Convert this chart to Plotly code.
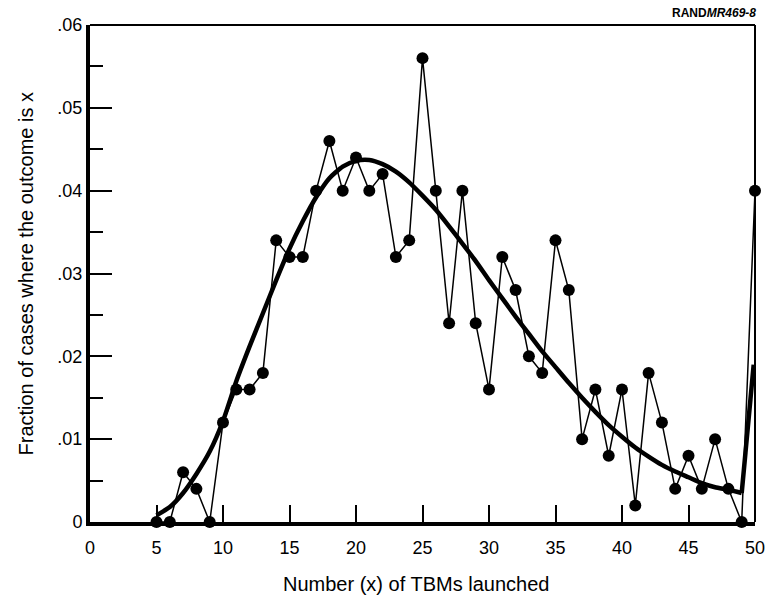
import plotly.graph_objects as go

# Observed fraction of cases for each number of TBMs launched
tbm_x = list(range(5, 51))
fraction = [0.000, 0.000, 0.006, 0.004, 0.000, 0.012, 0.016, 0.016, 0.018, 0.034,
            0.032, 0.032, 0.040, 0.046, 0.040, 0.044, 0.040, 0.042, 0.032, 0.034,
            0.056, 0.040, 0.024, 0.040, 0.024, 0.016, 0.032, 0.028, 0.020, 0.018,
            0.034, 0.028, 0.010, 0.016, 0.008, 0.016, 0.002, 0.018, 0.012, 0.004,
            0.008, 0.004, 0.010, 0.004, 0.000, 0.040]

# Smooth fitted curve
curve_x = list(range(5, 50))
curve_y = [0.0008, 0.0018, 0.0035, 0.0058, 0.0085, 0.0122, 0.0170, 0.0212, 0.0252, 0.0292,
           0.0330, 0.0363, 0.0392, 0.0415, 0.0429, 0.0436, 0.0437, 0.0432, 0.0423, 0.0410,
           0.0394, 0.0377, 0.0357, 0.0336, 0.0315, 0.0292, 0.0270, 0.0248, 0.0227, 0.0206,
           0.0187, 0.0168, 0.0150, 0.0133, 0.0117, 0.0103, 0.0090, 0.0079, 0.0069, 0.0061,
           0.0054, 0.0047, 0.0042, 0.0039, 0.0035]
# Final rise of the fitted curve
tail_x = [49, 49.9]
tail_y = [0.0035, 0.019]

y_ticks = [0, 0.01, 0.02, 0.03, 0.04, 0.05, 0.06]
y_tick_labels = ["0", ".01", ".02", ".03", ".04", ".05", ".06"]
x_ticks = [0, 5, 10, 15, 20, 25, 30, 35, 40, 45, 50]

FONT = "Liberation Sans, Arial, Helvetica, sans-serif"

fig = go.Figure()
fig.add_trace(go.Scatter(x=curve_x, y=curve_y, mode="lines",
                         line=dict(color="black", width=4.5, shape="spline", smoothing=0.6),
                         cliponaxis=False, hoverinfo="skip"))
fig.add_trace(go.Scatter(x=tail_x, y=tail_y, mode="lines",
                         line=dict(color="black", width=4.5),
                         cliponaxis=False, hoverinfo="skip"))
fig.add_trace(go.Scatter(x=tbm_x, y=fraction, mode="lines+markers",
                         line=dict(color="black", width=1.5),
                         marker=dict(color="black", size=12),
                         cliponaxis=False))

fig.update_layout(
    width=777, height=599,
    margin=dict(l=90, r=19, t=25, b=77),
    paper_bgcolor="white", plot_bgcolor="white",
    showlegend=False,
    font=dict(family=FONT, color="black", size=18),
    xaxis=dict(range=[0, 50], tickvals=x_ticks, ticks="inside", ticklen=17,
               tickwidth=2, tickcolor="black", showline=True, linewidth=4,
               linecolor="black", showgrid=False, zeroline=False,
               ticklabelstandoff=6,
               tickfont=dict(size=18, family=FONT)),
    yaxis=dict(range=[0, 0.06], tickvals=y_ticks, ticktext=y_tick_labels,
               ticks="inside", ticklen=22, tickwidth=2, tickcolor="black",
               showline=True, linewidth=4, linecolor="black", showgrid=False,
               zeroline=False, tickfont=dict(size=18, family=FONT),
               minor=dict(dtick=0.005, ticks="inside", ticklen=13, tickwidth=2,
                          tickcolor="black", showgrid=False)),
    shapes=[
        dict(type="line", xref="paper", yref="paper", x0=0, x1=1, y0=1, y1=1,
             line=dict(color="black", width=2)),
        dict(type="line", xref="paper", yref="paper", x0=1, x1=1, y0=0, y1=1,
             line=dict(color="black", width=2)),
    ],
    annotations=[
        dict(text="Fraction of cases where the outcome is x", xref="paper", yref="paper",
             x=0, y=0.5, xanchor="center", yanchor="middle", xshift=-65,
             textangle=-90, showarrow=False, font=dict(size=20, family=FONT)),
        dict(text="Number (x) of TBMs launched", xref="paper", yref="paper",
             x=0.5, y=0, xanchor="center", yanchor="middle", xshift=-7, yshift=-62,
             showarrow=False, font=dict(size=20, family=FONT)),
        dict(text="<b>RAND<i>MR469-8</i></b>", xref="paper", yref="paper",
             x=1, y=1, xanchor="right", yanchor="middle", xshift=3, yshift=12,
             showarrow=False, font=dict(size=12, family=FONT)),
    ],
)

fig.write_html("out.html")
